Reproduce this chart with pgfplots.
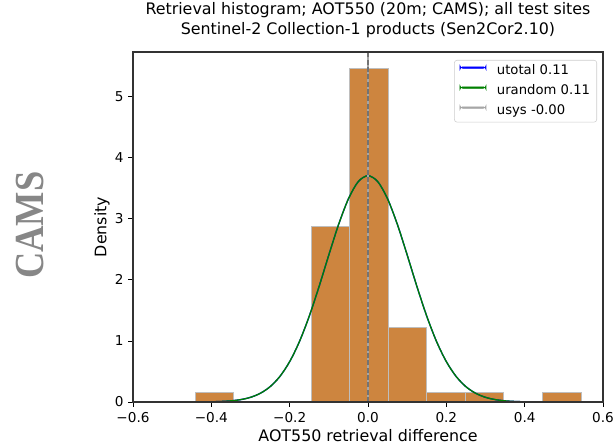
\documentclass[border=0pt]{standalone}
\usepackage{pgfplots}
\pgfplotsset{compat=1.18}
\usepackage{fontspec}
\setmainfont{DejaVu Sans}
\newfontfamily\camsfont{Liberation Serif}
\definecolor{peru}{RGB}{205,133,63}
\definecolor{edgegray}{RGB}{190,190,190}
\definecolor{mplgreen}{RGB}{0,128,0}
\newcommand{\mfont}{\fontsize{11.9}{14}\selectfont}
\newcommand{\tfont}{\fontsize{10.2}{12}\selectfont}
\newcommand{\lfont}{\fontsize{9.9}{12}\selectfont}
\begin{document}
\begin{tikzpicture}
\useasboundingbox (0,0) rectangle (462pt,333.75pt);
\node[rotate=90, text=black!47, font=\camsfont\bfseries\fontsize{31}{31}\selectfont] at (22.5pt,165pt) {\scalebox{0.88}[1]{CAMS}};
\begin{axis}[
  at={(99.75pt,32.25pt)}, anchor=south west,
  scale only axis, width=352.5pt, height=262.5pt,
  xmin=-0.6, xmax=0.6, ymin=0, ymax=5.73,
  xtick={-0.6,-0.4,-0.2,0,0.2,0.4,0.6},
  xticklabels={−0.6,−0.4,−0.2,0.0,0.2,0.4,0.6},
  ytick={0,1,2,3,4,5},
  yticklabels={0,1,2,3,4,5},
  tick align=outside, xtick pos=bottom, ytick pos=left,
  major tick length=3.6pt,
  every tick/.style={black, line width=0.6pt},
  axis line style={line width=0.8pt, black!80},
  tick label style={font=\tfont},
  xticklabel style={yshift=-0.5pt},
  axis on top,
  title={Retrieval histogram; AOT550 (20m; CAMS); all test sites\\Sentinel-2 Collection-1 products (Sen2Cor2.10)},
  title style={at={(axis description cs:0.5,1.0686)}, anchor=center, align=center, font=\fontsize{11.9}{15}\selectfont},
  xlabel={AOT550 retrieval difference},
  ylabel={Density},
  xlabel style={at={(axis description cs:0.5,-0.097)}, anchor=center, font=\mfont},
  ylabel style={at={(axis description cs:-0.066,0.5)}, anchor=center, rotate=0, font=\mfont},
  legend style={at={(axis description cs:1,1)}, anchor=north east, xshift=-4.5pt, yshift=-6pt,
    draw=black!20, rounded corners=2pt, fill=white,
    font=\lfont, inner xsep=4pt, inner ysep=2.3pt, row sep=3.2pt,
    nodes={inner sep=1pt, text height=7.6pt, text depth=2.2pt}},
  legend cell align=left,
]
\addplot[ybar interval, fill=peru, draw=edgegray, line width=0.75pt, forget plot] coordinates {
(-0.441,0.1515) (-0.3425,0) (-0.244,0) (-0.1455,2.879) (-0.047,5.455) (0.0515,1.212) (0.15,0.1515) (0.2485,0.1515) (0.347,0) (0.4455,0.1515) (0.544,0)
};
\addplot[draw=blue, line width=1pt, smooth, forget plot] coordinates {
(-0.6,0) (-0.5,0.00005) (-0.45,0.0006) (-0.4,0.00374) (-0.375,0.00864) (-0.35,0.0189) (-0.325,0.039) (-0.3,0.0766) (-0.275,0.1422) (-0.25,0.2505) (-0.225,0.418) (-0.2,0.661) (-0.175,0.990) (-0.15,1.405) (-0.125,1.889) (-0.1,2.408) (-0.075,2.907) (-0.05,3.326) (-0.025,3.607) (0,3.705) (0.025,3.607) (0.05,3.326) (0.075,2.907) (0.1,2.408) (0.125,1.889) (0.15,1.405) (0.175,0.990) (0.2,0.661) (0.225,0.418) (0.25,0.2505) (0.275,0.1422) (0.3,0.0766) (0.325,0.039) (0.35,0.0189) (0.375,0.00864) (0.4,0.00374) (0.45,0.0006) (0.5,0.00005) (0.6,0)
};
\addplot[draw=mplgreen, line width=1pt, smooth, forget plot] coordinates {
(-0.6,0) (-0.5,0.00005) (-0.45,0.0006) (-0.4,0.00374) (-0.375,0.00864) (-0.35,0.0189) (-0.325,0.039) (-0.3,0.0766) (-0.275,0.1422) (-0.25,0.2505) (-0.225,0.418) (-0.2,0.661) (-0.175,0.990) (-0.15,1.405) (-0.125,1.889) (-0.1,2.408) (-0.075,2.907) (-0.05,3.326) (-0.025,3.607) (0,3.705) (0.025,3.607) (0.05,3.326) (0.075,2.907) (0.1,2.408) (0.125,1.889) (0.15,1.405) (0.175,0.990) (0.2,0.661) (0.225,0.418) (0.25,0.2505) (0.275,0.1422) (0.3,0.0766) (0.325,0.039) (0.35,0.0189) (0.375,0.00864) (0.4,0.00374) (0.45,0.0006) (0.5,0.00005) (0.6,0)
};
\addplot[draw=black!35, line width=1pt, forget plot] coordinates {(0,0) (0,5.73)};
\addplot[draw=black!55, line width=0.9pt, dash pattern=on 3.8pt off 1.7pt, forget plot] coordinates {(0,0) (0,5.73)};
\addlegendimage{legend image code/.code={\fill[blue] (0pt,2.2pt) rectangle (19.5pt,3.3pt); \path (26.5pt,2.7pt);}}
\addlegendentry{utotal 0.11}
\addlegendimage{legend image code/.code={\fill[mplgreen] (0pt,2.2pt) rectangle (19.5pt,3.3pt); \path (26.5pt,2.7pt);}}
\addlegendentry{urandom 0.11}
\addlegendimage{legend image code/.code={\fill[black!35] (0pt,2.2pt) rectangle (19.5pt,3.3pt); \path (26.5pt,2.7pt);}}
\addlegendentry{usys -0.00}
\end{axis}
\end{tikzpicture}
\end{document}
